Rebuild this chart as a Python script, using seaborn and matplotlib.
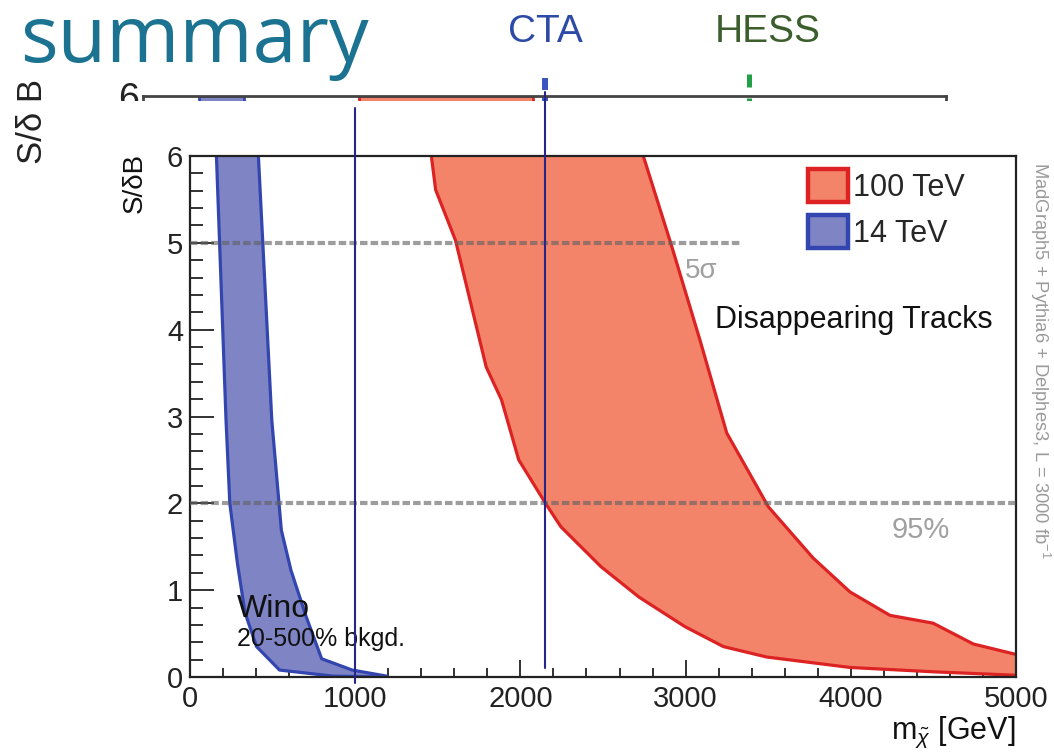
import matplotlib
matplotlib.use("Agg")
import matplotlib.pyplot as plt
from matplotlib.patches import Patch, Rectangle
from matplotlib.ticker import MultipleLocator
import pandas as pd
import seaborn as sns

# ---- 100 TeV band: S/dB versus wino mass [GeV] ----
red_lo_mass = [1441, 1461, 1487, 1607, 1793, 1886, 1990, 2152, 2245, 2488, 2718, 2996, 3229, 3491, 3995, 4498, 5000, 5060]
red_lo_sdb = [6.3, 6.0, 5.61, 5.03, 3.57, 3.19, 2.50, 2.00, 1.73, 1.27, 0.92, 0.58, 0.35, 0.23, 0.11, 0.06, 0.02, 0.02]
red_hi_mass = [2694, 2744, 2916, 3087, 3249, 3501, 3772, 3995, 4237, 4498, 4742, 5000, 5060]
red_hi_sdb = [6.3, 6.0, 4.96, 3.88, 2.81, 1.96, 1.37, 0.98, 0.71, 0.62, 0.38, 0.26, 0.25]

# ---- 14 TeV band ----
blue_lo_mass = [154, 160, 218, 241, 287, 333, 403, 542, 866, 1191]
blue_lo_sdb = [6.3, 6.0, 2.96, 2.0, 1.31, 0.74, 0.35, 0.08, 0.01, 0.0]
blue_hi_mass = [406, 414, 495, 553, 611, 704, 797, 982, 1191]
blue_hi_sdb = [6.3, 6.0, 2.96, 1.69, 1.23, 0.69, 0.21, 0.08, 0.01]

# significance reference lines: (level, x extent)
ref_levels = [5.0, 2.0]
ref_xmax = [3340, 5000]
ref_labels = ["5σ", "95%"]

# mass markers carried over from the indirect-detection reach
marker_masses = [1000, 2150]

# enlarged copy of the plot behind (only its top edge shows)
bg_band_14 = [350, 630]
bg_band_100 = [1345, 2430]
cta_mass = 2506
hess_mass = 3773

RED_FILL, RED_EDGE = "#f3846a", "#dc2222"
BLUE_FILL, BLUE_EDGE = "#7e84c4", "#3346b0"
GREY = "#626262"
NAVY = "#25258a"

sns.set_theme(style="ticks")
plt.rcParams["font.family"] = ["Liberation Sans", "DejaVu Sans"]
plt.rcParams["mathtext.fontset"] = "custom"
plt.rcParams["mathtext.rm"] = "Liberation Sans"
plt.rcParams["mathtext.it"] = "Liberation Sans:italic"

W, H = 1054, 756
fig = plt.figure(figsize=(W / 100, H / 100), dpi=100)
fig.patch.set_facecolor("white")

def px_box(x0, y0, x1, y1):
    return [x0 / W, 1 - y1 / H, (x1 - x0) / W, (y1 - y0) / H]

# ---------- background plot strip ----------
ax_bg = fig.add_axes(px_box(143, 96, 946, 200), zorder=0)
ax_bg.set_xlim(0, 5000)
ax_bg.set_ylim(5, 6)
ax_bg.fill_betweenx([5, 6], bg_band_14[0], bg_band_14[1], facecolor=BLUE_FILL,
                    edgecolor=BLUE_EDGE, linewidth=2)
ax_bg.fill_betweenx([5, 6], bg_band_100[0], bg_band_100[1], facecolor=RED_FILL,
                    edgecolor=RED_EDGE, linewidth=2)
ax_bg.vlines(cta_mass, 6.06, 6.17, color="#3a55c0", lw=4.3, clip_on=False)
ax_bg.vlines(cta_mass, 5.95, 5.99, color="#3a55c0", lw=4.3, clip_on=False)
ax_bg.vlines(hess_mass, 6.09, 6.21, color="#22a045", lw=3.6, clip_on=False)
ax_bg.vlines(hess_mass, 5.91, 5.98, color="#22a045", lw=3.6, clip_on=False)
ax_bg.set_xticks([])
ax_bg.set_yticks([6])
ax_bg.set_yticklabels(["6"], fontsize=27)
ax_bg.tick_params(axis="y", length=0, pad=3, colors="#222222")
ax_bg.spines["bottom"].set_visible(False)
for s in ("top", "left", "right"):
    ax_bg.spines[s].set_linewidth(2)
    ax_bg.spines[s].set_color("#444444")

# white slide area covering the rest of the strip plot
fig.add_artist(Rectangle((84 / W, 0), 1 - 84 / W, 1 - 101 / H, transform=fig.transFigure,
                         facecolor="white", edgecolor="none", zorder=1))

# ---------- main plot ----------
ax = fig.add_axes(px_box(190, 156, 1016, 677), zorder=2)
ax.set_facecolor("white")

def band(m_lo, y_lo, m_hi, y_hi):
    xs = list(m_lo) + list(m_hi)[::-1]
    ys = list(y_lo) + list(y_hi)[::-1]
    return xs, ys

bx, by = band(red_lo_mass, red_lo_sdb, red_hi_mass, red_hi_sdb)
ax.fill(bx, by, facecolor=RED_FILL, edgecolor="none", zorder=1)
bx, by = band(blue_lo_mass, blue_lo_sdb, blue_hi_mass, blue_hi_sdb)
ax.fill(bx, by, facecolor=BLUE_FILL, edgecolor="none", zorder=1)

edges = pd.concat([
    pd.DataFrame({"mass": red_lo_mass, "sdb": red_lo_sdb, "edge": "r_lo"}),
    pd.DataFrame({"mass": red_hi_mass, "sdb": red_hi_sdb, "edge": "r_hi"}),
    pd.DataFrame({"mass": blue_lo_mass, "sdb": blue_lo_sdb, "edge": "b_lo"}),
    pd.DataFrame({"mass": blue_hi_mass, "sdb": blue_hi_sdb, "edge": "b_hi"}),
])
sns.lineplot(data=edges, x="mass", y="sdb", hue="edge", sort=False, estimator=None,
             palette={"r_lo": RED_EDGE, "r_hi": RED_EDGE, "b_lo": BLUE_EDGE, "b_hi": BLUE_EDGE},
             linewidth=2.3, legend=False, ax=ax, zorder=2)

for lvl, xm in zip(ref_levels, ref_xmax):
    ax.plot([0, xm], [lvl, lvl], color=GREY, alpha=0.62, lw=3.0, dashes=(1.8, 0.75),
            solid_capstyle="butt", zorder=3)
ax.text(2996, 4.60, ref_labels[0], fontsize=20, color="#a0a0a0", zorder=4)
ax.text(4249, 1.60, ref_labels[1], fontsize=21, color="#a0a0a0", zorder=4)

ax.text(3178, 4.02, "Disappearing Tracks", fontsize=22, color="#111111", zorder=4)
ax.text(285, 0.69, "Wino", fontsize=23, color="#111111", zorder=4)
ax.text(285, 0.36, "20-500% bkgd.", fontsize=18, color="#111111", zorder=4)

ax.set_xlim(0, 5000)
ax.set_ylim(0, 6)
ax.xaxis.set_major_locator(MultipleLocator(1000))
ax.xaxis.set_minor_locator(MultipleLocator(200))
ax.yaxis.set_major_locator(MultipleLocator(1))
ax.yaxis.set_minor_locator(MultipleLocator(0.2))
ax.tick_params(axis="both", which="both", direction="in", colors="#222222",
               width=1.3, top=False, right=False, labelsize=21)
ax.tick_params(axis="x", which="major", length=12.5, pad=6)
ax.tick_params(axis="x", which="minor", length=6.2)
ax.tick_params(axis="y", which="major", length=17, pad=5)
ax.tick_params(axis="y", which="minor", length=9)
for s in ax.spines.values():
    s.set_linewidth(1.6)
    s.set_color("#222222")
    s.set_visible(True)
ax.set_xlabel("")
ax.set_ylabel("")

ax.text(-0.051, 1.006, "S/δB", rotation=90, rotation_mode="anchor", ha="right",
        va="bottom", fontsize=20, transform=ax.transAxes, color="#111111")
ax.text(1.0, -0.118, r"$\mathrm{m}_{\tilde{\chi}}$ [GeV]", ha="right", va="baseline",
        fontsize=22, transform=ax.transAxes, color="#111111")

ax.legend(handles=[Patch(facecolor=RED_FILL, edgecolor=RED_EDGE, linewidth=3.2, label="100 TeV"),
                   Patch(facecolor=BLUE_FILL, edgecolor=BLUE_EDGE, linewidth=3.2, label="14 TeV")],
          loc="upper left", bbox_to_anchor=(0.748, 0.975), frameon=False, fontsize=22,
          handlelength=1.3, handleheight=1.3, handletextpad=0.18, labelspacing=0.4,
          borderpad=0, borderaxespad=0)

# vertical guide lines at the marked masses
ax.plot([marker_masses[0]] * 2, [-0.07, 6.553], color=NAVY, lw=1.5, clip_on=False, zorder=6)
ax.plot([marker_masses[1]] * 2, [0.104, 6.737], color=NAVY, lw=1.5, clip_on=False, zorder=6)

# ---------- slide texts ----------
fig.text(32 / W, 1 - 122 / H, "S/δ B", rotation=90, ha="center", va="center",
         fontsize=25, color="#222222")
fig.text(1040 / W, 1 - 360 / H, r"MadGraph5 + Pythia6 + Delphes3, L = 3000 fb$^{-1}$",
         rotation=-90, ha="center", va="center", fontsize=13.2, color="#9a9a9a")
fig.text(20 / W, 1 - 62 / H, "summary", fontsize=57, color="#1b7391",
         family=["Open Sans", "DejaVu Sans"], va="baseline")
fig.text(545 / W, 1 - 42 / H, "CTA", fontsize=28, color="#2d4aa6", ha="center", va="baseline")
fig.text(768 / W, 1 - 42 / H, "HESS", fontsize=28, color="#3c5e2c", ha="center", va="baseline")

fig.savefig("out.png", dpi=100, facecolor="white")
